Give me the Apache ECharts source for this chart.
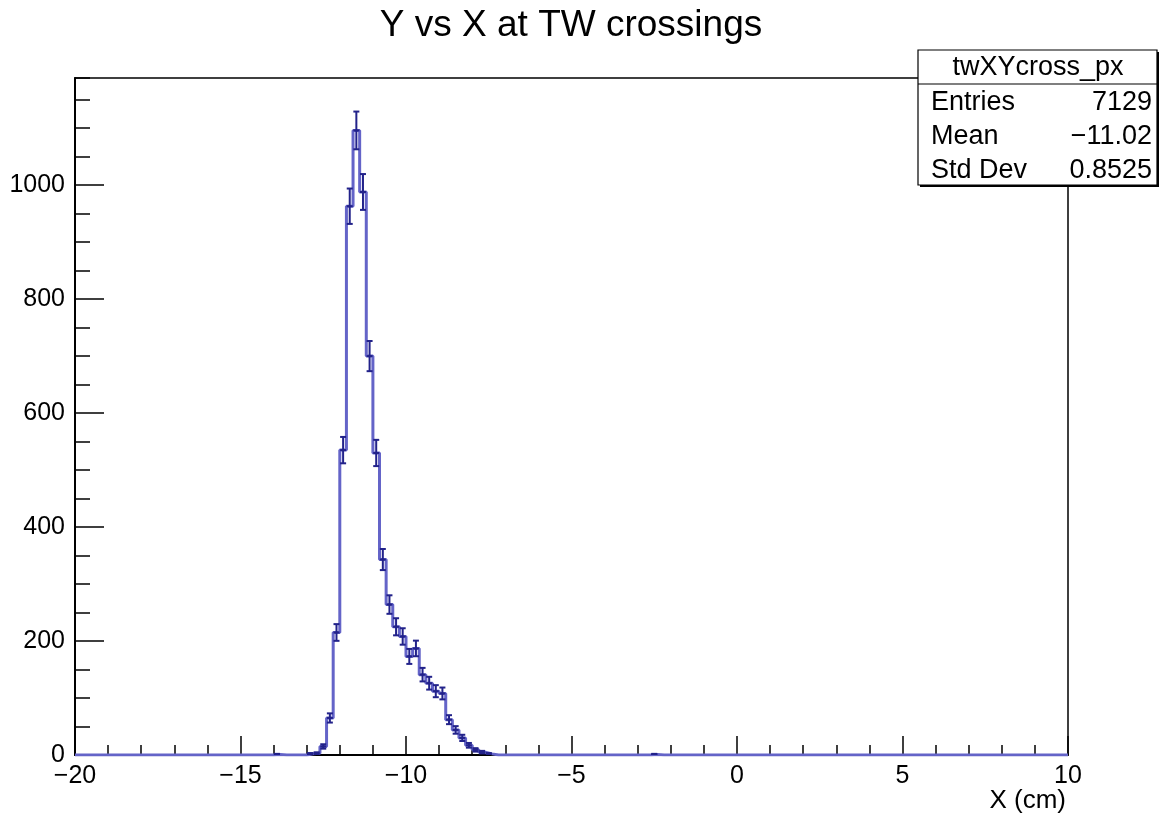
<!DOCTYPE html>
<html><head><meta charset="utf-8">
<script src="https://cdn.jsdelivr.net/npm/echarts@6/dist/echarts.min.js"></script>
<style>html,body{margin:0;padding:0;background:#fff}#c{width:1160px;height:817px}</style>
</head><body><div id="c"></div>
<script>
const chartTitle = 'Y vs X at TW crossings';
const xAxisTitle = 'X (cm)';
const xMin = -20, xMax = 10, binWidth = 0.2;
const yMin = 0, yMax = 1188;
const xMajorTicks = 5, xMinorTicks = 1, yMajorTicks = 200, yMinorTicks = 50;
// non-empty bins: low edge and content
const binLowEdges = [-14.0, -13.0, -12.8, -12.6, -12.4, -12.2, -12.0, -11.8, -11.6, -11.4,
  -11.2, -11.0, -10.8, -10.6, -10.4, -10.2, -10.0, -9.8, -9.6, -9.4,
  -9.2, -9.0, -8.8, -8.6, -8.4, -8.2, -8.0, -7.8, -7.6, -2.6];
const binCounts = [1, 2, 3, 15, 65, 215, 535, 963, 1096, 988,
  700, 530, 343, 264, 225, 208, 173, 187, 141, 126,
  112, 108, 62, 44, 30, 17, 9, 5, 2, 1];
const statsName = 'twXYcross_px';
const statsLabels = ['Entries', 'Mean', 'Std Dev'];
const statsValues = ['7129', '\u221211.02', '0.8525'];

const FONT = 'Liberation Sans, Arial, Helvetica, sans-serif';
const nBins = Math.round((xMax - xMin) / binWidth);
const counts = new Array(nBins).fill(0);
binLowEdges.forEach((e, k) => { counts[Math.round((e - xMin) / binWidth)] = binCounts[k]; });
const stepData = [];
for (let i = 0; i < nBins; i++) stepData.push([+(xMin + i * binWidth).toFixed(4), counts[i]]);
stepData.push([xMax, 0]);
const errData = binLowEdges.map((e, k) => [+(e + binWidth / 2).toFixed(4), binCounts[k], Math.sqrt(binCounts[k])]);

const fmtNum = v => (v < 0 ? '\u2212' + (-v) : String(v));
const chart = echarts.init(document.getElementById('c'), null, {renderer: 'canvas'});
const G = {left: 75, right: 92, top: 78, bottom: 62};
chart.setOption({
  animation: false,
  backgroundColor: '#fff',
  graphic: [
    {type: 'text', x: 571, y: 26, style: {text: chartTitle, font: '37px ' + FONT, fill: '#000', align: 'center', verticalAlign: 'middle'}},
    {type: 'text', x: 1066, y: 801, style: {text: xAxisTitle, font: '26px ' + FONT, fill: '#000', align: 'right', verticalAlign: 'middle'}},
    {type: 'group', x: 918, y: 50, children: [
      {type: 'rect', shape: {x: 2, y: 2, width: 239, height: 135}, style: {fill: '#000'}},
      {type: 'rect', shape: {x: 0, y: 0, width: 239, height: 135}, style: {fill: '#fff', stroke: '#000', lineWidth: 1.2}},
      {type: 'line', shape: {x1: 0, y1: 34, x2: 239, y2: 34}, style: {stroke: '#000', lineWidth: 1.2}},
      {type: 'text', x: 120, y: 18, style: {text: statsName, font: '27px ' + FONT, fill: '#000', align: 'center', verticalAlign: 'middle'}},
      ...statsLabels.map((t, i) => ({type: 'text', x: 13, y: 53 + i * 34, style: {text: t, font: '27px ' + FONT, fill: '#000', align: 'left', verticalAlign: 'middle'}})),
      ...statsValues.map((t, i) => ({type: 'text', x: 234, y: 53 + i * 34, style: {text: t, font: '27px ' + FONT, fill: '#000', align: 'right', verticalAlign: 'middle'}}))
    ]}
  ],
  grid: {left: G.left, right: G.right, top: G.top, bottom: G.bottom, show: true, borderColor: '#000', borderWidth: 1.5, backgroundColor: 'transparent'},
  xAxis: [
    {type: 'value', min: xMin, max: xMax, interval: xMajorTicks, position: 'bottom',
     axisLine: {show: true, onZero: false, lineStyle: {color: '#000', width: 2}},
     axisTick: {show: true, inside: true, length: 19, lineStyle: {color: '#000', width: 1.5}},
     axisLabel: {fontFamily: FONT, fontSize: 25, color: '#000', margin: 9, formatter: fmtNum},
     splitLine: {show: false}},
    {type: 'value', min: xMin, max: xMax, interval: xMinorTicks, position: 'bottom',
     axisLine: {show: false, onZero: false},
     axisTick: {show: true, inside: true, length: 10, lineStyle: {color: '#000', width: 1.5}},
     axisLabel: {show: false}, splitLine: {show: false}}
  ],
  yAxis: [
    {type: 'value', min: yMin, max: yMax, interval: yMajorTicks, position: 'left',
     axisLine: {show: true, onZero: false, lineStyle: {color: '#000', width: 2}},
     axisTick: {show: true, inside: true, length: 29, lineStyle: {color: '#000', width: 1.5}},
     axisLabel: {fontFamily: FONT, fontSize: 25, color: '#000', margin: 10, showMaxLabel: false, formatter: fmtNum},
     splitLine: {show: false}},
    {type: 'value', min: yMin, max: yMax, interval: yMinorTicks, position: 'left',
     axisLine: {show: false, onZero: false},
     axisTick: {show: true, inside: true, length: 15, lineStyle: {color: '#000', width: 1.5}},
     axisLabel: {show: false}, splitLine: {show: false}}
  ],
  series: [
    {type: 'line', data: stepData, step: 'end', showSymbol: false, symbol: 'none', clip: true,
     lineStyle: {color: '#6464c8', width: 3}, z: 3},
    {type: 'custom', data: errData, clip: true, z: 4,
     renderItem: (params, api) => {
       const xc = api.value(0), y = api.value(1), e = api.value(2);
       const pT = api.coord([xc, y + e]);
       const pB = api.coord([xc, Math.max(0, y - e)]);
       const pC = api.coord([xc, y]);
       const cap = 3;
       const st = {stroke: '#22228a', lineWidth: 2, fill: null};
       return {type: 'group', children: [
         {type: 'line', shape: {x1: pT[0], y1: pT[1], x2: pB[0], y2: pB[1]}, style: st},
         {type: 'line', shape: {x1: pT[0] - cap, y1: pT[1], x2: pT[0] + cap, y2: pT[1]}, style: st},
         {type: 'line', shape: {x1: pB[0] - cap, y1: pB[1], x2: pB[0] + cap, y2: pB[1]}, style: st},
         {type: 'line', shape: {x1: pC[0] - cap, y1: pC[1], x2: pC[0] + cap, y2: pC[1]}, style: st}
       ]};
     }}
  ]
});
</script></body></html>
